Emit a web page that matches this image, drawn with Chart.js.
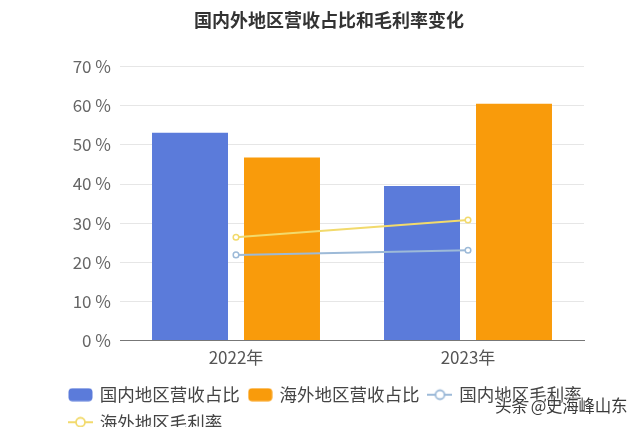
<!DOCTYPE html>
<html>
<head>
<meta charset="utf-8">
<script src="https://cdn.jsdelivr.net/npm/chart.js@4.4.0/dist/chart.umd.min.js"></script>
<style>
  html, body { margin: 0; padding: 0; background: #fff; overflow: hidden; }
  #wrap { position: relative; width: 640px; height: 427px; overflow: hidden; }
  #box { position: absolute; left: 0; top: 0; width: 640px; height: 441px; }
  #wm { position: absolute; left: 495px; top: 393px; font: 16.5px "Noto Sans CJK SC", sans-serif; color: #3a3a3a;
        text-shadow: 0 0 2px #fff, 0 0 2px #fff, 0 0 2px #fff; white-space: nowrap; letter-spacing: -0.3px; }
</style>
</head>
<body>
<div id="wrap">
  <div id="box"><canvas id="c" width="640" height="441"></canvas></div>
  <div id="wm">头条 @史海峰山东</div>
</div>
<script>
const titleText = '国内外地区营收占比和毛利率变化';
const categories = ['2022年', '2023年'];
const domesticShare = [53.1, 39.5];
const overseasShare = [46.8, 60.5];
const domesticMargin = [21.9, 23.1];
const overseasMargin = [26.4, 30.8];
const seriesNames = ['国内地区营收占比', '海外地区营收占比', '国内地区毛利率', '海外地区毛利率'];

const BLUE = '#5b7bda', ORANGE = '#f99b0b', LBLUE = '#9dbad8', YELLOW = '#f2da6c';
const FONT = '"Noto Sans CJK SC", "Noto Sans", sans-serif';

function boxIcon(color) {
  const c = document.createElement('canvas'); c.width = 25; c.height = 14;
  const x = c.getContext('2d'); x.fillStyle = color;
  x.beginPath(); x.roundRect(0.5, 0.5, 24, 13, 4); x.fill();
  return c;
}
function lineIcon(color) {
  const c = document.createElement('canvas'); c.width = 25; c.height = 14;
  const x = c.getContext('2d'); x.strokeStyle = color; x.lineWidth = 2;
  x.beginPath(); x.moveTo(0, 7); x.lineTo(25, 7); x.stroke();
  x.fillStyle = '#fff'; x.lineWidth = 1.8;
  x.beginPath(); x.arc(12.5, 7, 4.5, 0, Math.PI * 2); x.fill(); x.stroke();
  return c;
}
const icons = [boxIcon(BLUE), boxIcon(ORANGE), lineIcon(LBLUE), lineIcon(YELLOW)];

// shift the centred title slightly left, as in the reference
const titleShift = {
  id: 'titleShift',
  beforeDraw(chart) { const t = chart.titleBlock; if (t && !t._shifted) { t.left -= 11; t.right -= 11; t._shifted = true; } }
};

new Chart(document.getElementById('c'), {
  data: {
    labels: categories,
    datasets: [
      { type: 'line', label: seriesNames[2], data: domesticMargin, borderColor: LBLUE, backgroundColor: '#fff',
        borderWidth: 2, pointRadius: 2.8, pointBorderWidth: 1.5, pointBackgroundColor: '#fff', order: 1 },
      { type: 'line', label: seriesNames[3], data: overseasMargin, borderColor: YELLOW, backgroundColor: '#fff',
        borderWidth: 2, pointRadius: 2.8, pointBorderWidth: 1.5, pointBackgroundColor: '#fff', order: 1 },
      { type: 'bar', label: seriesNames[0], data: domesticShare, backgroundColor: BLUE,
        categoryPercentage: 0.793, barPercentage: 0.826, order: 2 },
      { type: 'bar', label: seriesNames[1], data: overseasShare, backgroundColor: ORANGE,
        categoryPercentage: 0.793, barPercentage: 0.826, order: 2 }
    ]
  },
  plugins: [titleShift],
  options: {
    responsive: false,
    animation: false,
    devicePixelRatio: 1,
    layout: { padding: { left: 60, right: 20, top: 0, bottom: 0 } },
    plugins: {
      title: { display: true, text: titleText, color: '#333', font: { family: FONT, size: 18, weight: 'bold' },
               padding: { top: 9, bottom: 36 } },
      legend: {
        position: 'bottom', align: 'start',
        labels: {
          usePointStyle: true, pointStyleWidth: 21, padding: 10,
          color: '#444', font: { family: FONT, size: 17.5 },
          generateLabels: (chart) => {
            const order = [2, 3, 0, 1];
            return order.map((di, k) => {
              const ds = chart.data.datasets[di];
              return { text: ds.label, pointStyle: icons[k], datasetIndex: di, hidden: false,
                       fillStyle: '#fff', strokeStyle: '#fff', lineWidth: 0, fontColor: '#444' };
            });
          }
        }
      },
      tooltip: { enabled: false }
    },
    scales: {
      x: {
        grid: { display: false, drawTicks: false },
        border: { display: true, color: '#777', width: 1 },
        ticks: { color: '#555', font: { family: FONT, size: 17 }, padding: 7 },
        afterFit: (s) => { s.height += 1; }
      },
      y: {
        min: 0, max: 70,
        ticks: { stepSize: 10, color: '#666', font: { family: FONT, size: 17 }, padding: 9,
                 callback: (v) => v + ' %' },
        grid: { color: '#e6e6e6', drawTicks: false },
        border: { display: false },
        afterFit: (s) => { s.width = 60; }
      },
      yr: {
        position: 'right', display: true,
        grid: { display: false }, border: { display: false }, ticks: { display: false },
        afterFit: (s) => { s.width = 36; }
      }
    }
  }
});
</script>
</body>
</html>
